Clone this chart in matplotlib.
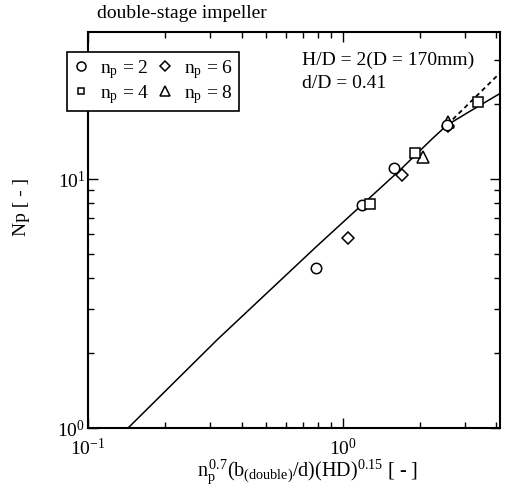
import numpy as np
import matplotlib
matplotlib.use('Agg')
import matplotlib.pyplot as plt
from matplotlib.lines import Line2D

plt.rcParams['font.family'] = ['Liberation Serif', 'DejaVu Serif']
plt.rcParams['mathtext.fontset'] = 'custom'
plt.rcParams['mathtext.rm'] = 'Liberation Serif'
plt.rcParams['mathtext.it'] = 'Liberation Serif:italic'
plt.rcParams['mathtext.default'] = 'regular'

# measured points, grouped by number of blades
x_np2 = [0.783, 1.187, 1.585, 2.56]
y_np2 = [4.39, 7.87, 11.07, 16.5]
x_np4 = [1.276, 1.91, 3.38]
y_np4 = [7.94, 12.7, 20.4]
x_np6 = [1.046, 1.70, 2.58]
y_np6 = [5.8, 10.4, 16.3]
x_np8 = [2.06, 2.58]
y_np8 = [12.3, 17.0]

# correlation curve (solid) and its straight extension (dashed)
x_fit = [0.1436, 0.3236, 0.798, 1.673, 2.254, 2.56, 3.06, 4.21]
y_fit = [1.0, 2.28, 5.43, 10.87, 14.62, 16.48, 18.41, 22.34]
x_ext = [2.56, 4.13]
y_ext = [16.5, 26.7]

fig = plt.figure(figsize=(5.07, 4.88), dpi=100)
ax = fig.add_axes([88/507, 60/488, 412/507, 396/488])

ax.plot(x_fit, y_fit, color='black', lw=1.1)
ax.plot(x_ext, y_ext, color='black', lw=1.3, ls=(0, (2.5, 2)))

mk = dict(ls='none', mfc='white', mec='black', mew=1.1)
ax.plot(x_np2, y_np2, marker='o', ms=7.5, zorder=4, **mk)
ax.plot(x_np4, y_np4, marker='s', ms=7.5, zorder=4, **mk)
ax.plot(x_np6, y_np6, marker='D', ms=6.5, zorder=3, **mk)
ax.plot(x_np8, y_np8, marker='^', ms=8, zorder=3, **mk)

ax.set_xscale('log')
ax.set_yscale('log')
ax.set_xlim(0.1, 4.13)
ax.set_ylim(1, 39)

ax.tick_params(which='both', direction='in', top=True, right=True,
               labelsize=14, width=1.0)
ax.tick_params(which='major', length=7)
ax.tick_params(which='minor', length=4)
ax.tick_params(axis='x', pad=7)
ax.tick_params(axis='y', pad=2)
for s in ax.spines.values():
    s.set_linewidth(1.5)

fig.text(97/507, 1 - 14/488, 'double-stage impeller', fontsize=14,
         ha='left', va='center')
fig.text(21/507, 1 - 207/488, 'Np [ - ]', fontsize=14, rotation=90,
         ha='center', va='center')
fig.text(308/507, 1 - 472/488,
         r'n$_{p}^{\,0.7}$(b$_{(double)}$/d)(HD)$^{0.15}$ [ - ]',
         fontsize=14.5, ha='center', va='center')
fig.text(302/507, 1 - 60/488, 'H/D = 2(D = 170mm)', fontsize=14,
         ha='left', va='center')
fig.text(302/507, 1 - 83/488, 'd/D = 0.41', fontsize=14,
         ha='left', va='center')

handles = [
    Line2D([], [], marker='o', ms=6.5, **mk),
    Line2D([], [], marker='s', ms=5, **mk),
    Line2D([], [], marker='D', ms=5.5, **mk),
    Line2D([], [], marker='^', ms=7, **mk),
]
labels = [r'n$_{p}$ = 2', r'n$_{p}$ = 4', r'n$_{p}$ = 6', r'n$_{p}$ = 8']
leg = fig.legend(handles, labels, ncol=2, loc='upper left',
                 bbox_to_anchor=(67/507, 1 - 52/488), fontsize=14,
                 fancybox=False, edgecolor='black', framealpha=1,
                 handlelength=0.8, handletextpad=0.6, columnspacing=0.4,
                 labelspacing=0.1, borderpad=0.3, borderaxespad=0)
leg.get_frame().set_linewidth(1.2)

fig.savefig('out.png', dpi=100)
